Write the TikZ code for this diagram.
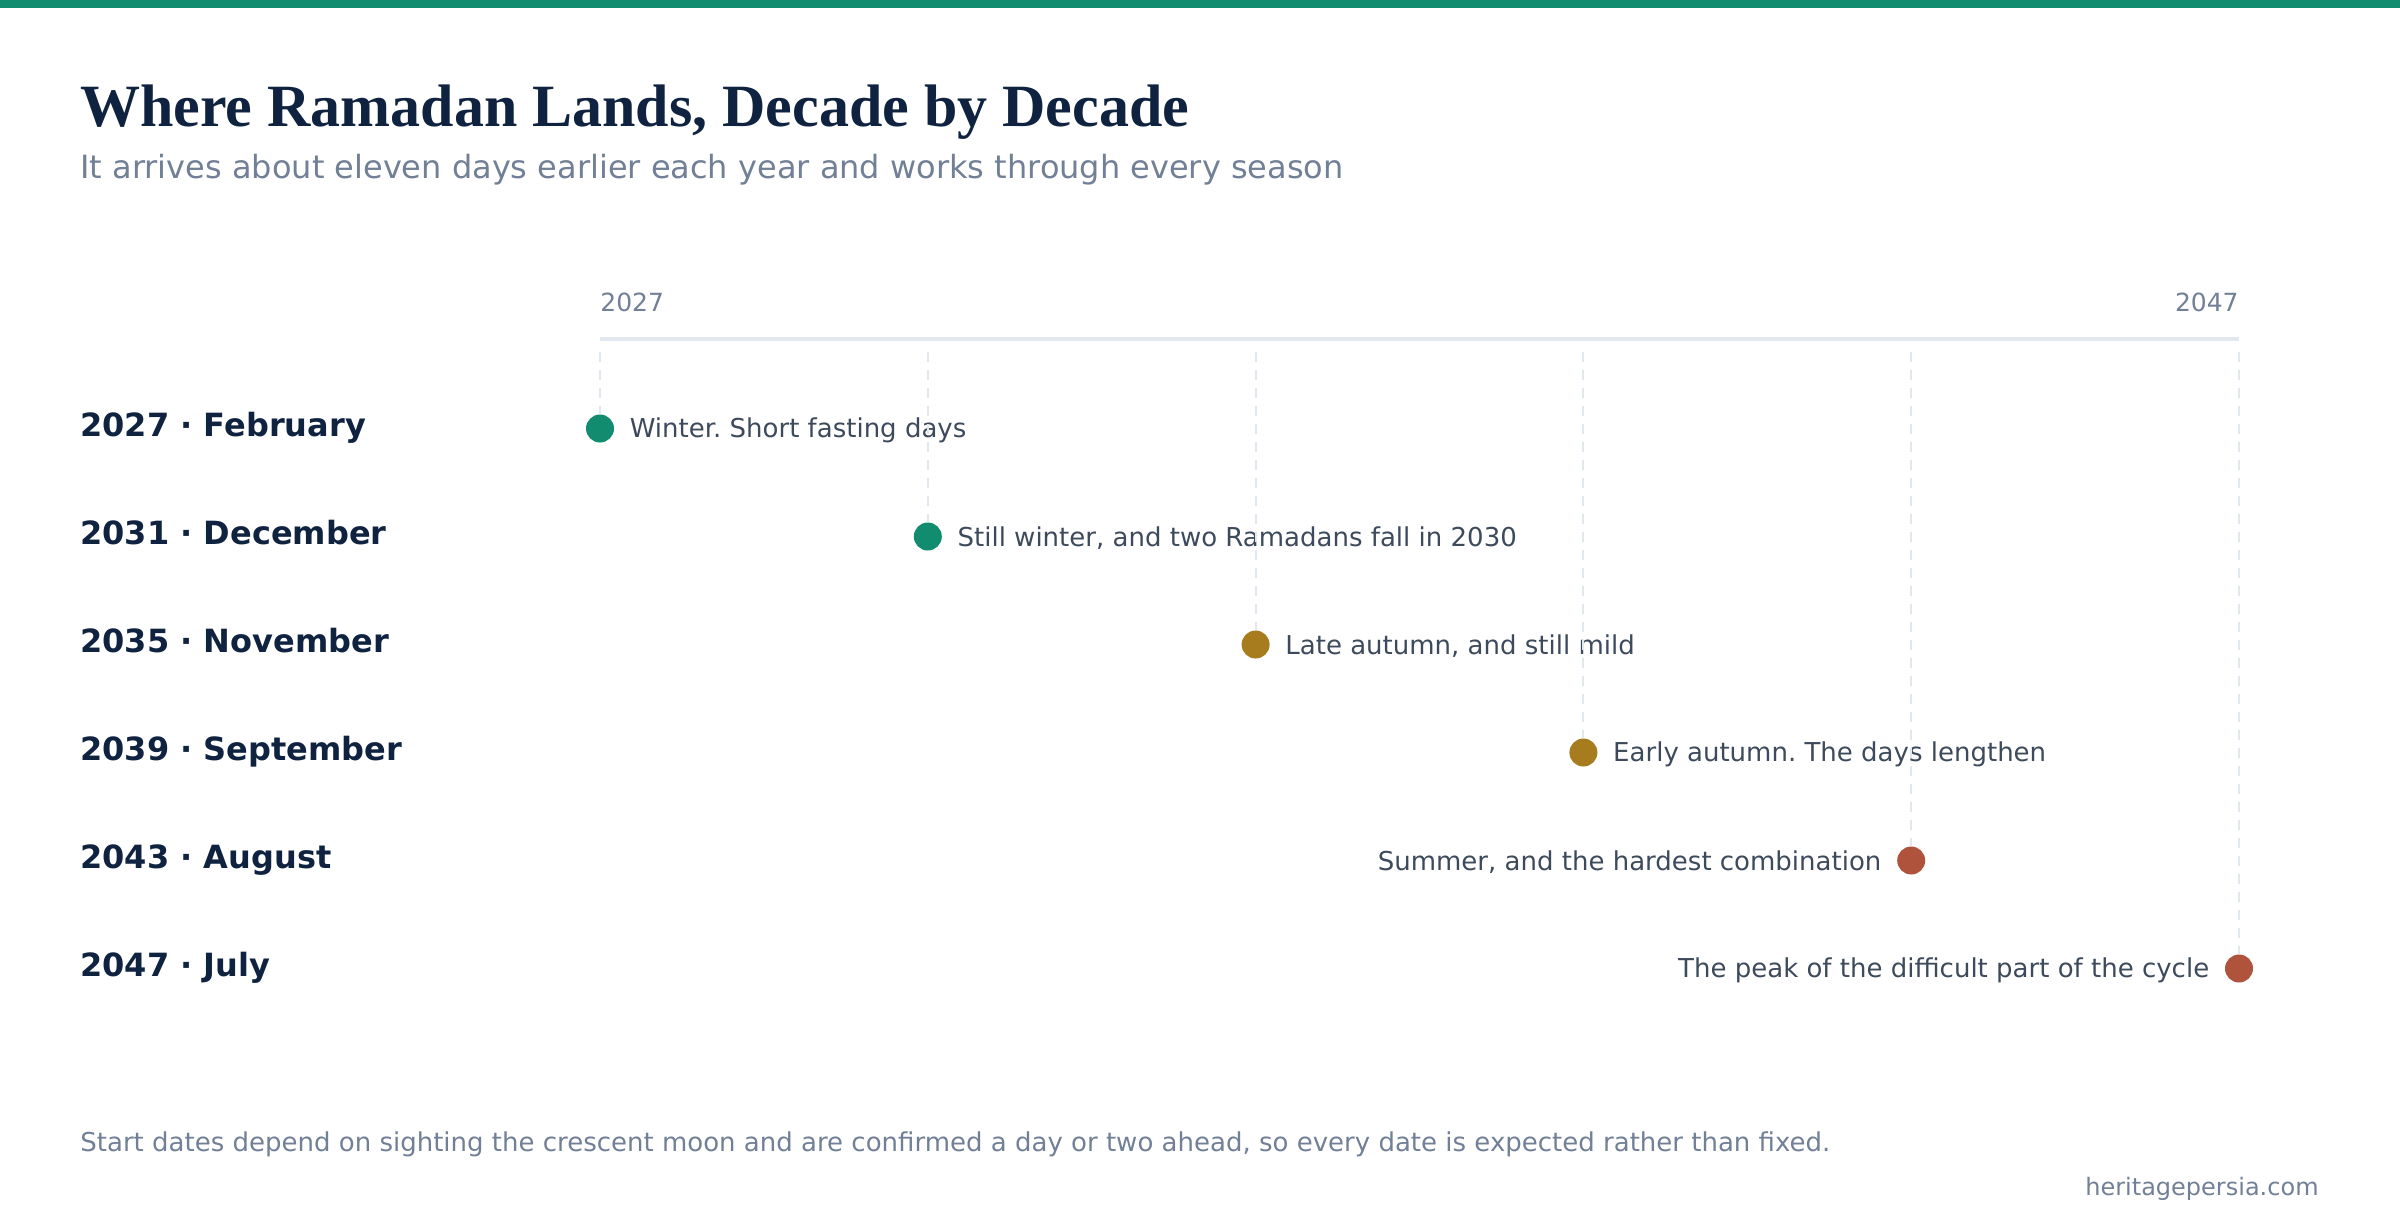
\documentclass[tikz,border=0pt]{standalone}
\usepackage{fontspec}
\setmainfont{DejaVu Sans}
\newfontfamily\titlefont{Liberation Serif}
\usetikzlibrary{positioning}
\frenchspacing

\definecolor{seagreen}{HTML}{128C6E}
\definecolor{ochre}{HTML}{A67C1E}
\definecolor{rust}{HTML}{B0533C}
\definecolor{navy}{HTML}{0F2340}
\definecolor{slate}{HTML}{718096}
\definecolor{ink}{HTML}{3D4A5C}
\definecolor{rule}{HTML}{E2E8F0}

\tikzset{
  rowlabel/.style={anchor=mid west, inner sep=0pt, text=navy,
    font=\fontsize{16}{19}\selectfont\bfseries},
  note/.style={inner sep=0pt, text=ink, font=\fontsize{13}{16}\selectfont},
  dot/.style={circle, fill=#1, minimum size=14pt, inner sep=0pt},
  guide/.style={draw=rule, line width=1pt, dash pattern=on 5pt off 4pt},
  small/.style={inner sep=0pt, text=slate, font=\fontsize{12.5}{15}\selectfont}
}

\begin{document}
\begin{tikzpicture}[x=0.5pt, y=-0.5pt]
  \useasboundingbox (0,0) rectangle (2400,1228);
  \fill[seagreen] (0,0) rectangle (2400,8);

  % heading
  \node[anchor=base west, inner sep=0pt, text=navy,
    font=\titlefont\fontsize{30}{36}\selectfont\bfseries] (title) at (80,126)
    {Where Ramadan Lands, Decade by Decade};
  \node[anchor=base west, inner sep=0pt, text=slate,
    font=\fontsize{16}{19}\selectfont] (subtitle) at (80,178)
    {It arrives about eleven days earlier each year and works through every season};

  % axis
  \coordinate (axl) at (600,339);
  \coordinate (axr) at (2239,339);
  \draw[rule, line width=2.2pt] (axl) -- (axr);
  \node[small, anchor=base west] (ylo) at (600,311) {2027};
  \node[small, anchor=base east] (yhi) at (2239,311) {2047};

  % one row per decade step
  \foreach [count=\i] \yr/\mon/\txt/\col/\side in {
      2027/February/{Winter. Short fasting days}/seagreen/right,
      2031/December/{Still winter, and two Ramadans fall in 2030}/seagreen/right,
      2035/November/{Late autumn, and still mild}/ochre/right,
      2039/September/{Early autumn. The days lengthen}/ochre/right,
      2043/August/{Summer, and the hardest combination}/rust/left,
      2047/July/{The peak of the difficult part of the cycle}/rust/left} {
    \pgfmathsetmacro{\xx}{600+(\i-1)*327.8}
    \pgfmathsetmacro{\yy}{428.5+(\i-1)*108}
    \node[rowlabel] (lab\i) at (80,\yy+3) {\yr\ \textperiodcentered\ \mon};
    \coordinate (top\i) at (\xx,352);
    \node[dot=\col] (d\i) at (\xx,\yy) {};
    \draw[guide] (top\i) -- (d\i.north);
    \node[note, \side=7.5pt of d\i, yshift=-1pt] (n\i) {\txt};
  }

  % footer
  \node[small, anchor=base west, font=\fontsize{13}{16}\selectfont] (foot) at (80,1151)
    {Start dates depend on sighting the crescent moon and are confirmed a day or two ahead, so every date is expected rather than fixed.};
  \node[small, anchor=base east, font=\fontsize{12}{15}\selectfont] (site) at (2319,1195) {heritagepersia.com};
\end{tikzpicture}
\end{document}
